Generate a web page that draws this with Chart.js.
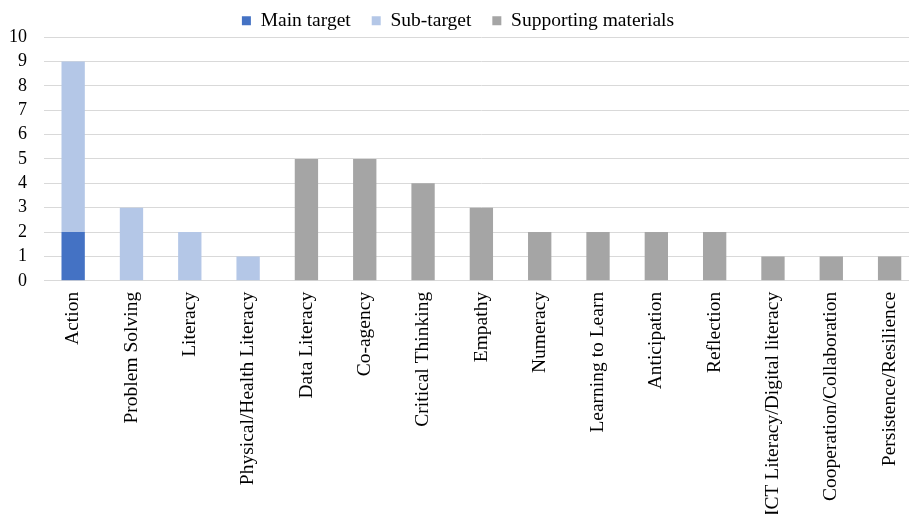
<!DOCTYPE html>
<html>
<head>
<meta charset="utf-8">
<script src="https://cdn.jsdelivr.net/npm/chart.js@4/dist/chart.umd.min.js"></script>
<style>
  html, body { margin: 0; padding: 0; background: #fff; overflow: hidden; }
  #wrap { width: 924px; height: 514px; }
</style>
</head>
<body>
<div id="wrap"><canvas id="competencies"></canvas></div>
<script>
var labels = ["Action", "Problem Solving", "Literacy", "Physical/Health Literacy", "Data Literacy",
  "Co-agency", "Critical Thinking", "Empathy", "Numeracy", "Learning to Learn", "Anticipation",
  "Reflection", "ICT Literacy/Digital literacy", "Cooperation/Collaboration", "Persistence/Resilience"];
var mainTarget = [2, 0, 0, 0, 0, 0, 0, 0, 0, 0, 0, 0, 0, 0, 0];
var subTarget = [7, 3, 2, 1, 0, 0, 0, 0, 0, 0, 0, 0, 0, 0, 0];
var supporting = [0, 0, 0, 0, 5, 5, 4, 3, 2, 2, 2, 2, 1, 1, 1];
var yTicks = [0, 1, 2, 3, 4, 5, 6, 7, 8, 9, 10];

Chart.defaults.font.family = "'Liberation Serif', 'Times New Roman', serif";
Chart.defaults.color = "#000";

function series(name, values, colour) {
  return {
    label: name,
    data: values,
    backgroundColor: colour,
    barPercentage: 0.4,
    categoryPercentage: 1
  };
}

var ctx = document.getElementById("competencies").getContext("2d");
new Chart(ctx, {
  type: "bar",
  data: {
    labels: labels,
    datasets: [
      series("Main target", mainTarget, "#4472C4"),
      series("Sub-target", subTarget, "#B4C7E7"),
      series("Supporting materials", supporting, "#A5A5A5")
    ]
  },
  options: {
    responsive: true,
    maintainAspectRatio: false,
    animation: false,
    layout: { padding: { left: -8, right: 0, top: -10, bottom: -13 } },
    plugins: {
      legend: {
        position: "top",
        maxHeight: 47,
        labels: {
          font: { size: 19.5 },
          boxWidth: 9,
          boxHeight: 9,
          padding: 21
        }
      },
      tooltip: { enabled: false }
    },
    scales: {
      x: {
        stacked: true,
        grid: { display: false, drawTicks: false },
        border: { color: "#D9D9D9", width: 1 },
        ticks: {
          font: { size: 19.5 },
          autoSkip: false,
          minRotation: 90,
          maxRotation: 90,
          padding: 11
        }
      },
      y: {
        stacked: true,
        min: 0,
        max: 10,
        grid: { color: "#D9D9D9", lineWidth: 1, drawTicks: false },
        border: { display: false },
        afterBuildTicks: function(scale) {
          scale.ticks = yTicks.map(function(v) { return { value: v }; });
        },
        ticks: {
          autoSkip: false,
          font: { size: 18, lineHeight: 1 },
          padding: 17
        }
      }
    }
  }
});
</script>
</body>
</html>
